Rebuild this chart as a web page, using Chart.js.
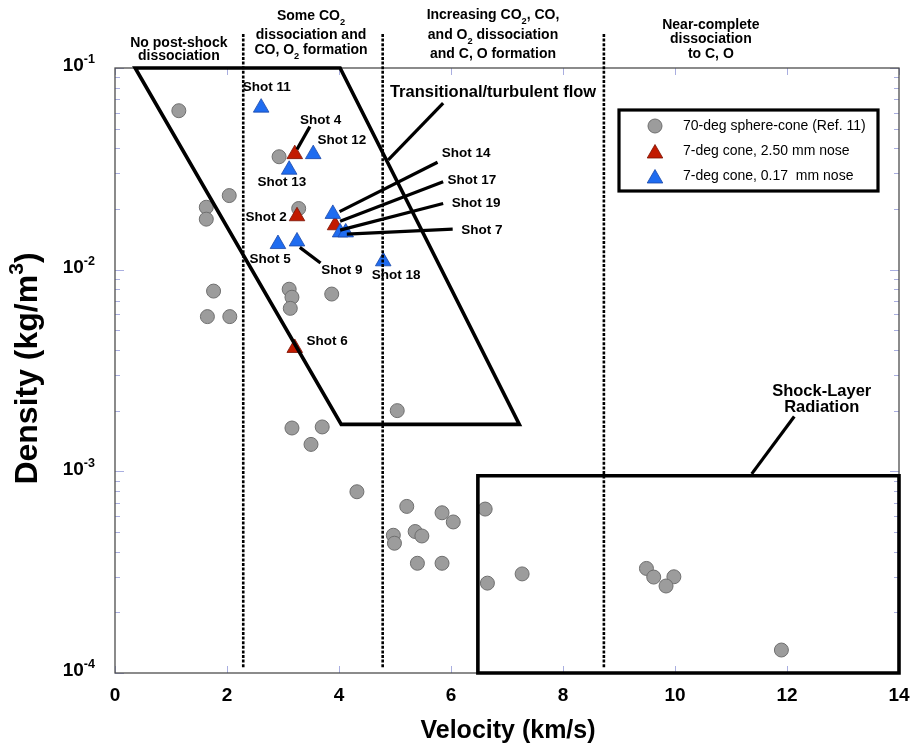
<!DOCTYPE html>
<html>
<head>
<meta charset="utf-8">
<script src="https://cdn.jsdelivr.net/npm/chart.js@4.4.1/dist/chart.umd.min.js"></script>
<style>
  html, body { margin: 0; padding: 0; background: #ffffff; }
  canvas { display: block; }
</style>
</head>
<body>
<canvas id="chart" width="912" height="746"></canvas>
<script>
// ---------------- data ----------------
// 70-deg sphere-cone (Ref. 11)
const sphereConeVel = [1.14, 2.93, 2.04, 1.63, 1.63, 3.28, 1.76, 1.65, 2.05, 3.11, 3.16, 3.13, 3.87,
                       5.04, 3.16, 3.70, 3.50, 4.32, 5.21, 5.84, 6.04, 4.97, 4.99, 5.36, 5.48, 5.40,
                       5.84, 6.61, 6.65, 7.27, 9.49, 9.62, 9.98, 9.84, 11.90];
const sphereConeRho = [0.0614, 0.0363, 0.0233, 0.0204, 0.0178, 0.0201, 0.00783, 0.00585, 0.00585, 0.0080, 0.0073, 0.00643, 0.00757,
                       0.00200, 0.00164, 0.00166, 0.00136, 0.000792, 0.00067, 0.000623, 0.000561, 0.000482, 0.00044, 0.000503, 0.000478, 0.00035,
                       0.00035, 0.00065, 0.000279, 0.00031, 0.00033, 0.000299, 0.00030, 0.00027, 0.00013];

// 7-deg cone, 2.50 mm nose
const nose250Shots = ['Shot 4', 'Shot 2', 'Shot 17', 'Shot 6'];
const nose250Vel   = [3.21, 3.25, 3.93, 3.21];
const nose250Rho   = [0.0374, 0.0184, 0.0166, 0.00409];

// 7-deg cone, 0.17 mm nose
const nose017Shots = ['Shot 11', 'Shot 12', 'Shot 13', 'Shot 5', 'Shot 9', 'Shot 14', 'Shot 19', 'Shot 7', 'Shot 18'];
const nose017Vel   = [2.61, 3.54, 3.11, 2.91, 3.25, 3.89, 4.02, 4.12, 4.79];
const nose017Rho   = [0.0636, 0.0374, 0.0313, 0.0134, 0.0138, 0.0189, 0.0153, 0.0153, 0.0110];

const seriesNames = ['70-deg sphere-cone (Ref. 11)', '7-deg cone, 2.50 mm nose', '7-deg cone, 0.17  mm nose'];

// axes
const velTicks = [0, 2, 4, 6, 8, 10, 12, 14];
const rhoDecades = [1e-4, 1e-3, 1e-2, 1e-1];
const rhoTickLabels = ['10^{-4}', '10^{-3}', '10^{-2}', '10^{-1}'];
const velTitle = 'Velocity (km/s)';
const rhoTitle = 'Density (kg/m^{3})';

// flow-chemistry regimes
const regimeBoundVel = [2.29, 4.78, 8.73];
const regimeCenterVel = [1.14, 3.50, 6.75, 10.64];
const regimeText = [
  ['No post-shock', 'dissociation'],
  ['Some CO_{2}', 'dissociation and', 'CO, O_{2} formation'],
  ['Increasing CO_{2}, CO,', 'and O_{2} dissociation', 'and C, O formation'],
  ['Near-complete', 'dissociation', 'to C, O']
];
const regimeRowOffset = [
  [-25, -12],
  [-52, -33, -18],
  [-53, -33, -14],
  [-43, -29, -14]
];

// transitional/turbulent flow envelope
const transitionalVel = [0.36, 4.02, 7.22, 4.04];
const transitionalRho = [0.1, 0.1, 0.00171, 0.00171];

// shock-layer radiation box
const shockLayerVel = [6.48, 14, 14, 6.48];
const shockLayerRho = [0.000951, 0.000951, 1e-4, 1e-4];

// callouts: text anchors and leader lines
const calloutText = ['Transitional/turbulent flow', 'Shot 11', 'Shot 4', 'Shot 12', 'Shot 13', 'Shot 2', 'Shot 5', 'Shot 9',
                     'Shot 6', 'Shot 14', 'Shot 17', 'Shot 19', 'Shot 7', 'Shot 18', 'Shock-Layer', 'Radiation'];
const calloutVel = [6.75, 2.71, 3.67, 4.05, 2.98, 2.70, 2.77, 4.05, 3.79, 6.27, 6.375, 6.45, 6.55, 5.02, 12.62, 12.62];
const calloutRho = [0.0760, 0.0802, 0.0552, 0.0436, 0.0270, 0.0181, 0.0113, 0.00996, 0.00442, 0.0378, 0.0279, 0.0213, 0.0157, 0.00942, 0.00248, 0.00207];
const calloutSize = [16.5, 13.5, 13.5, 13.5, 13.5, 13.5, 13.5, 13.5, 13.5, 13.5, 13.5, 13.5, 13.5, 13.5, 16.5, 16.5];

const leaderFromVel = [5.86, 3.48, 3.30, 5.76, 5.86, 5.86, 6.03, 12.13];
const leaderFromRho = [0.0670, 0.0512, 0.0129, 0.0341, 0.0273, 0.0213, 0.0159, 0.00187];
const leaderToVel   = [4.88, 3.25, 3.67, 4.01, 4.02, 4.02, 4.14, 11.37];
const leaderToRho   = [0.0350, 0.0395, 0.0108, 0.0194, 0.0174, 0.0157, 0.0150, 0.000971];

// ---------------- drawing helpers ----------------
const FONT = '"Liberation Sans", Arial, Helvetica, sans-serif';

function richParts(str) {
  const out = [];
  const re = /([_^])\{([^}]*)\}/g;
  let last = 0, m;
  while ((m = re.exec(str))) {
    if (m.index > last) out.push({ t: str.slice(last, m.index), k: '' });
    out.push({ t: m[2], k: m[1] });
    last = re.lastIndex;
  }
  if (last < str.length) out.push({ t: str.slice(last), k: '' });
  return out;
}

// text with _{sub} and ^{sup} pieces, vertically centred on y
function drawRich(ctx, str, x, y, size, weight, align) {
  const parts = richParts(str);
  const font = k => `${weight} ${k ? size * 0.66 : size}px ${FONT}`;
  let w = 0;
  parts.forEach(p => { ctx.font = font(p.k); p.w = ctx.measureText(p.t).width; w += p.w; });
  let cx = align === 'center' ? x - w / 2 : (align === 'right' ? x - w : x);
  ctx.textAlign = 'left';
  ctx.textBaseline = 'middle';
  parts.forEach(p => {
    ctx.font = font(p.k);
    const dy = p.k === '_' ? size * 0.45 : (p.k === '^' ? -size * 0.33 : 0);
    ctx.fillText(p.t, cx, y + dy);
    cx += p.w;
  });
}

function polyline(ctx, xs, ys, close) {
  ctx.beginPath();
  xs.forEach((px, i) => (i ? ctx.lineTo(px, ys[i]) : ctx.moveTo(px, ys[i])));
  if (close) ctx.closePath();
  ctx.stroke();
}

function toPoints(vel, rho) {
  return vel.map((v, i) => ({ x: v, y: rho[i] }));
}

// ---------------- overlay plugin: frame, ticks, regions, callouts, legend ----------------
const overlay = {
  id: 'overlay',
  beforeDatasetsDraw(chart) {
    const { ctx, chartArea: a } = chart;
    const xs = chart.scales.x, ys = chart.scales.y;
    ctx.save();
    // inward ticks on all four sides
    ctx.strokeStyle = '#a9aee0';
    ctx.lineWidth = 1;
    ctx.beginPath();
    velTicks.forEach(v => {
      const px = Math.round(xs.getPixelForValue(v)) + 0.5;
      ctx.moveTo(px, a.bottom); ctx.lineTo(px, a.bottom - 7);
      ctx.moveTo(px, a.top); ctx.lineTo(px, a.top + 7);
    });
    rhoDecades.forEach(d => {
      for (let k = 1; k <= 9; k++) {
        const val = d * k;
        if (val > 0.1 + 1e-9) break;
        const py = Math.round(ys.getPixelForValue(val)) + 0.5;
        const len = k === 1 ? 9 : 5;
        ctx.moveTo(a.left, py); ctx.lineTo(a.left + len, py);
        ctx.moveTo(a.right, py); ctx.lineTo(a.right - len, py);
      }
    });
    ctx.stroke();
    // plot frame
    ctx.strokeStyle = '#4d4d4d';
    ctx.lineWidth = 1.3;
    ctx.strokeRect(a.left, a.top, a.right - a.left, a.bottom - a.top);
    ctx.restore();
  },
  afterDatasetsDraw(chart) {
    const { ctx, chartArea: a } = chart;
    const xs = chart.scales.x, ys = chart.scales.y;
    const X = v => xs.getPixelForValue(v);
    const Y = d => ys.getPixelForValue(d);
    ctx.save();
    ctx.fillStyle = '#000';
    ctx.strokeStyle = '#000';

    // regime boundaries (dotted)
    ctx.lineWidth = 2.6;
    ctx.setLineDash([3, 1.6]);
    regimeBoundVel.forEach(v => {
      const px = X(v);
      ctx.beginPath(); ctx.moveTo(px, a.top - 34); ctx.lineTo(px, a.bottom - 5); ctx.stroke();
    });
    ctx.setLineDash([]);

    // regime headers
    regimeText.forEach((lines, i) => {
      lines.forEach((t, j) => drawRich(ctx, t, X(regimeCenterVel[i]), a.top + regimeRowOffset[i][j], 14, 'bold', 'center'));
    });

    // transitional/turbulent envelope and shock-layer box
    ctx.lineJoin = 'miter';
    ctx.lineWidth = 3.6;
    polyline(ctx, transitionalVel.map(X), transitionalRho.map(Y), true);
    polyline(ctx, shockLayerVel.map(X), shockLayerRho.map(Y), true);

    // leader lines
    ctx.lineWidth = 3.2;
    ctx.lineCap = 'butt';
    leaderFromVel.forEach((v, i) => {
      ctx.beginPath();
      ctx.moveTo(X(v), Y(leaderFromRho[i]));
      ctx.lineTo(X(leaderToVel[i]), Y(leaderToRho[i]));
      ctx.stroke();
    });

    // callout text
    calloutText.forEach((t, i) => drawRich(ctx, t, X(calloutVel[i]), Y(calloutRho[i]), calloutSize[i], 'bold', 'center'));

    // legend
    const lx = 619, ly = 110, lw = 259, lh = 81;
    ctx.fillStyle = '#fff';
    ctx.fillRect(lx, ly, lw, lh);
    ctx.lineWidth = 3.2;
    ctx.strokeStyle = '#000';
    ctx.strokeRect(lx, ly, lw, lh);
    const rowY = [126, 151, 176];
    chart.data.datasets.forEach((ds, i) => {
      const my = rowY[i] + (ds.pointStyle === 'triangle' ? 2.5 : 0);
      ctx.fillStyle = ds.backgroundColor;
      ctx.strokeStyle = ds.borderColor;
      ctx.lineWidth = ds.borderWidth;
      Chart.helpers.drawPoint(ctx, { pointStyle: ds.pointStyle, radius: ds.pointRadius, rotation: 0, borderWidth: ds.borderWidth }, 655, my);
      ctx.fillStyle = '#000';
      drawRich(ctx, ds.label, 683, rowY[i], 14, 'normal', 'left');
    });

    // tick labels
    ctx.fillStyle = '#000';
    velTicks.forEach(v => drawRich(ctx, String(v), X(v), a.bottom + 23, 19, 'bold', 'center'));
    rhoDecades.forEach((d, i) => drawRich(ctx, rhoTickLabels[i], a.left - 20, Y(d) - 2, 19, 'bold', 'right'));

    // axis titles
    drawRich(ctx, velTitle, (a.left + a.right) / 2 + 1, a.bottom + 58, 25, 'bold', 'center');
    ctx.save();
    ctx.translate(28, (a.top + a.bottom) / 2 - 2);
    ctx.rotate(-Math.PI / 2);
    drawRich(ctx, rhoTitle, 0, 0, 32, 'bold', 'center');
    ctx.restore();

    ctx.restore();
  }
};

new Chart(document.getElementById('chart'), {
  type: 'scatter',
  data: {
    datasets: [
      {
        label: seriesNames[0],
        data: toPoints(sphereConeVel, sphereConeRho),
        pointStyle: 'circle', pointRadius: 7,
        backgroundColor: '#9c9c9c', borderColor: '#6f6f6f', borderWidth: 1,
        order: 3
      },
      {
        label: seriesNames[1],
        data: toPoints(nose250Vel, nose250Rho),
        pointStyle: 'triangle', pointRadius: 9,
        backgroundColor: '#c21a00', borderColor: '#7a1200', borderWidth: 0.8,
        order: 2
      },
      {
        label: seriesNames[2],
        data: toPoints(nose017Vel, nose017Rho),
        pointStyle: 'triangle', pointRadius: 9,
        backgroundColor: '#1f6cf0', borderColor: '#1a48a8', borderWidth: 0.8,
        order: 1
      }
    ]
  },
  options: {
    responsive: false,
    animation: false,
    devicePixelRatio: 1,
    events: [],
    layout: { padding: { left: 115, right: 13, top: 68, bottom: 73 } },
    plugins: { legend: { display: false }, tooltip: { enabled: false } },
    scales: {
      x: { type: 'linear', min: 0, max: 14, display: false },
      y: { type: 'logarithmic', min: 1e-4, max: 1e-1, display: false }
    }
  },
  plugins: [overlay]
});
</script>
</body>
</html>
